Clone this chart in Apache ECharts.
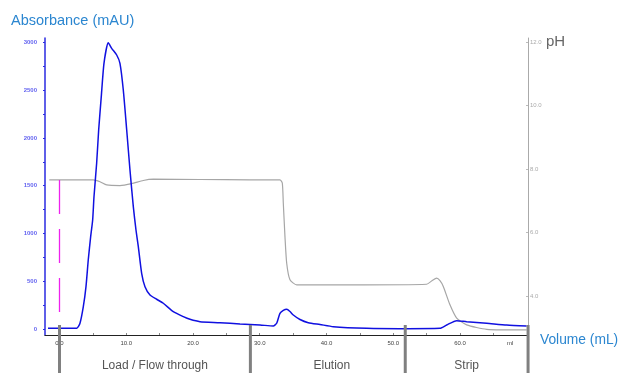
<!DOCTYPE html>
<html>
<head>
<meta charset="utf-8">
<script src="https://cdn.jsdelivr.net/npm/echarts@6/dist/echarts.min.js"></script>
<style>
html,body{margin:0;padding:0;background:#fff;}
#chart{width:624px;height:373px;}
</style>
</head>
<body>
<div id="chart"></div>
<script>
// Absorbance (mAU) trace: [volume mL, mAU]
var uvVolume = [-1.72, 2.58, 3.07, 3.57, 3.97, 4.31, 4.67, 4.97, 5.17, 5.57, 5.87, 6.26, 6.67, 7.31, 7.82, 8.57, 9.06, 9.56, 10.07, 10.56, 11.06, 11.46, 11.81, 12.31, 12.81, 13.56, 14.56, 15.55, 17.05, 18.55, 19.55, 21.05, 24.04, 27.04, 30.04, 32.03, 32.54, 33.03, 33.53, 34.04, 34.53, 35.03, 36.03, 37.27, 39.03, 41.02, 46.02, 51.01, 57.0, 58.01, 59.51, 61.0, 64.0, 67.0, 69.99];
var uvValues = [7, 7, 60, 233, 443, 722, 966, 1141, 1384, 1737, 2082, 2431, 2783, 2996, 2937, 2867, 2780, 2501, 2082, 1664, 1280, 1036, 861, 583, 443, 356, 311, 269, 181, 129, 101, 76, 66, 52, 42, 31, 60, 164, 194, 206, 183, 146, 99, 66, 47, 24, 7, 3, 7, 42, 87, 76, 60, 42, 31];
// pH trace
var phVolume = [-1.53, 5.06, 6.07, 7.07, 9.06, 10.82, 12.55, 14.05, 21.05, 28.54, 33.03, 33.38, 33.53, 33.78, 34.04, 34.53, 35.54, 43.52, 55.01, 55.8, 56.51, 57.0, 57.5, 58.5, 59.51, 61.0, 64.0, 69.99];
var phValues = [7.66, 7.66, 7.60, 7.50, 7.48, 7.54, 7.64, 7.68, 7.67, 7.66, 7.66, 7.56, 6.93, 5.87, 5.03, 4.51, 4.35, 4.35, 4.37, 4.48, 4.56, 4.48, 4.30, 3.72, 3.30, 3.09, 2.95, 2.93];
// axes
var xTickValues = [0, 5, 10, 15, 20, 25, 30, 35, 40, 45, 50, 55, 60, 65];
var xLabelValues = [0, 10, 20, 30, 40, 50, 60, 67.5];
var xLabelTexts = ['0.0', '10.0', '20.0', '30.0', '40.0', '50.0', '60.0', 'ml'];
var uvTickValues = [0, 250, 500, 750, 1000, 1250, 1500, 1750, 2000, 2250, 2500, 2750, 3000];
var uvLabelValues = [0, 500, 1000, 1500, 2000, 2500, 3000];
var phLabelValues = [4, 6, 8, 10, 12];
// fractions / phases
var phaseBounds = [0, 28.6, 51.8, 70.2];
var phaseNames = ['Load / Flow through', 'Elution', 'Strip'];
var phaseLabelAt = [14.3, 40.8, 61.0];
// injection marker
var injectionVolume = 0;
var injectionTop = 1560;

var X_MIN = -2.17, X_MAX = 70.19, UV_MIN = -63, UV_MAX = 3045, PH_MIN = 2.77, PH_MAX = 12.13;

function zip(a, b) { return a.map(function (v, i) { return [v, b[i]]; }); }

var chart = echarts.init(document.getElementById('chart'), null, {renderer: 'canvas'});
var FONT = 'Liberation Sans, Arial, sans-serif';
var option = {
  animation: false,
  grid: {left: 45, right: 96, top: 38, bottom: 38},
  title: [
    {text: 'Absorbance (mAU)', left: 11, top: 13, padding: 0, textStyle: {fontFamily: FONT, fontSize: 14.5, fontWeight: 'normal', color: '#2b86d0'}},
    {text: 'pH', left: 546, top: 34, padding: 0, textStyle: {fontFamily: FONT, fontSize: 15, fontWeight: 'normal', color: '#666'}},
    {text: 'Volume (mL)', left: 540, top: 333, padding: 0, textStyle: {fontFamily: FONT, fontSize: 13.8, fontWeight: 'normal', color: '#2b86d0'}}
  ],
  xAxis: {
    type: 'value', min: X_MIN, max: X_MAX,
    axisLine: {onZero: false, lineStyle: {color: '#222', width: 1.2}},
    axisTick: {show: true, inside: true, length: 2, customValues: xTickValues, lineStyle: {color: '#888'}},
    axisLabel: {customValues: xLabelValues, margin: 5, fontSize: 6, fontFamily: FONT, color: '#444',
      formatter: function (v) { var i = xLabelValues.indexOf(v); return i >= 0 ? xLabelTexts[i] : ''; }},
    splitLine: {show: false}
  },
  yAxis: [
    {
      type: 'value', min: UV_MIN, max: UV_MAX, position: 'left',
      axisLine: {show: true, onZero: false, lineStyle: {color: '#2a2ae0', width: 1.5}},
      axisTick: {show: true, length: 2, customValues: uvTickValues, lineStyle: {color: '#2a2ae0'}},
      axisLabel: {customValues: uvLabelValues, margin: 8, fontSize: 6, fontWeight: 'bold', fontFamily: FONT, color: '#6464f0',
        formatter: function (v) { return String(v); }},
      splitLine: {show: false}
    },
    {
      type: 'value', min: PH_MIN, max: PH_MAX, position: 'right',
      axisLine: {show: true, onZero: false, lineStyle: {color: '#aaa', width: 1}},
      axisTick: {show: true, inside: true, length: 2, customValues: phLabelValues, lineStyle: {color: '#bbb'}},
      axisLabel: {customValues: phLabelValues, margin: 2, fontSize: 6, fontFamily: FONT, color: '#aaa',
        formatter: function (v) { return v.toFixed(1); }},
      splitLine: {show: false}
    }
  ],
  series: [
    {
      name: 'pH', type: 'line', yAxisIndex: 1, data: zip(phVolume, phValues),
      showSymbol: false, symbol: 'none', smooth: 0.2,
      lineStyle: {color: '#a6a6a6', width: 1.2}, z: 2
    },
    {
      name: 'UV', type: 'line', yAxisIndex: 0, data: zip(uvVolume, uvValues),
      showSymbol: false, symbol: 'none', smooth: 0.2,
      lineStyle: {color: '#1010e0', width: 1.5}, z: 3,
      markLine: {
        silent: true, symbol: 'none', label: {show: false},
        lineStyle: {color: '#ee22ee', width: 1.3, type: [34, 15], opacity: 1},
        emphasis: {disabled: true},
        data: [[{coord: [injectionVolume, injectionTop]}, {coord: [injectionVolume, 0]}]]
      }
    },
    {
      name: 'phases', type: 'custom', yAxisIndex: 0, clip: false, z: 5,
      data: phaseBounds.map(function (v, i) { return [v, i]; }),
      renderItem: function (params, api) {
        var i = api.value(1);
        var base = api.coord([api.value(0), UV_MIN]);
        var children = [{
          type: 'rect',
          shape: {x: base[0] - 1.5, y: base[1] - 10, width: 3, height: 60},
          style: {fill: '#808080'}
        }];
        if (i < phaseNames.length) {
          var c = api.coord([phaseLabelAt[i], UV_MIN]);
          children.push({
            type: 'text',
            style: {text: phaseNames[i], x: c[0], y: c[1] + 31, align: 'center', verticalAlign: 'middle',
              fontSize: 12, fontFamily: FONT, fill: '#555'}
          });
        }
        return {type: 'group', children: children};
      }
    }
  ]
};
chart.setOption(option);
</script>
</body>
</html>
